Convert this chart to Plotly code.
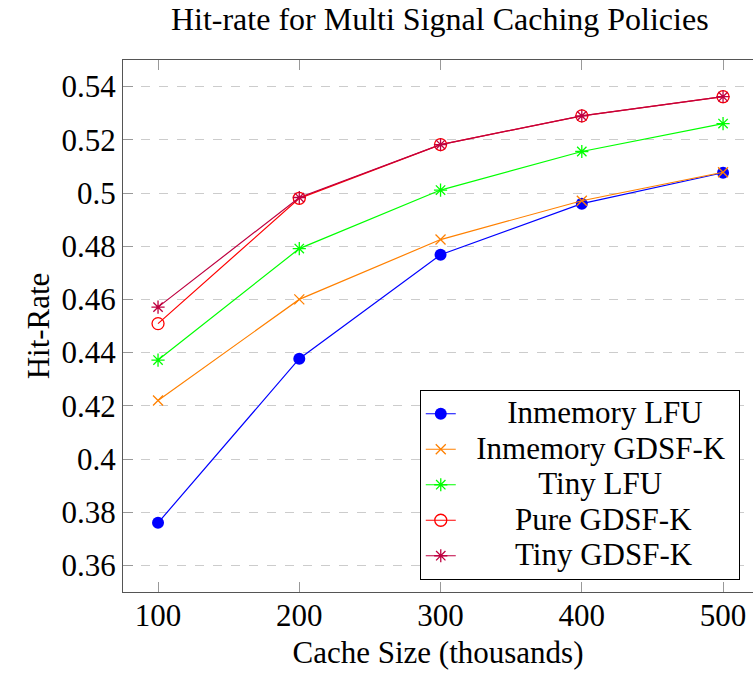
import plotly.graph_objects as go

# Cache sizes (thousands) and hit-rates per policy
cache_sizes = [100, 200, 300, 400, 500]
inmemory_lfu = [0.376, 0.4377, 0.4768, 0.4960, 0.5076]
inmemory_gdsfk = [0.422, 0.4600, 0.4825, 0.4971, 0.5078]
tiny_lfu = [0.4372, 0.4791, 0.5011, 0.5156, 0.5261]
pure_gdsfk = [0.4509, 0.4980, 0.5182, 0.5290, 0.5362]
tiny_gdsfk = [0.4571, 0.4983, 0.5182, 0.5290, 0.5362]

x_ticks = [100, 200, 300, 400, 500]
y_ticks = [0.36, 0.38, 0.40, 0.42, 0.44, 0.46, 0.48, 0.50, 0.52, 0.54]
y_tick_text = ["0.36", "0.38", "0.4", "0.42", "0.44", "0.46", "0.48", "0.5", "0.52", "0.54"]

FONT = "Liberation Serif"
LEGEND_TEXT_SIZE = 31


def legend_label(name, pad):
    # leading non-breaking spaces roughly centre the shorter entries
    inner = "&nbsp;" * (2 + pad) + name + "&nbsp;"
    return f"<span style='font-size:{LEGEND_TEXT_SIZE}px'>{inner}</span>"


series = [
    ("Inmemory LFU", 4, inmemory_lfu, "#0000ff", dict(symbol="circle", size=12)),
    ("Inmemory GDSF-K", 0, inmemory_gdsfk, "#ff8000", dict(symbol="x-thin-open", size=10, line=dict(width=1.3))),
    ("Tiny LFU", 8, tiny_lfu, "#00ff00", dict(symbol="asterisk-open", size=11, line=dict(width=1.3))),
    ("Pure GDSF-K", 5, pure_gdsfk, "#ff0000", dict(symbol="circle-open", size=12, line=dict(width=1.3))),
    ("Tiny GDSF-K", 5, tiny_gdsfk, "#bf0040", dict(symbol="asterisk-open", size=11, line=dict(width=1.3))),
]

fig = go.Figure()
for name, pad, ys, color, marker in series:
    m = dict(marker)
    m["color"] = color
    if "line" in m:
        m["line"] = dict(m["line"], color=color)
    fig.add_trace(go.Scatter(
        x=cache_sizes, y=ys, name=legend_label(name, pad), mode="lines+markers",
        line=dict(color=color, width=1.2), marker=m,
        hovertemplate=f"{name}<br>%{{x}}: %{{y}}<extra></extra>",
    ))

fig.update_layout(
    width=753, height=677,
    margin=dict(l=123, r=0, t=60, b=85),
    paper_bgcolor="white", plot_bgcolor="white",
    font=dict(family=FONT, size=31, color="black"),
    title=dict(text="Hit-rate for Multi Signal Caching Policies",
               font=dict(family=FONT, size=32, color="black"),
               x=0.584, xanchor="center", y=0.972, yanchor="middle"),
    showlegend=True,
    legend=dict(
        x=0.979, y=0.0226, xanchor="right", yanchor="bottom",
        bgcolor="white", bordercolor="black", borderwidth=1,
        font=dict(family=FONT, size=25, color="black"),
        tracegroupgap=0,
    ),
)

fig.update_xaxes(
    range=[75.2, 521.2], tickvals=x_ticks, ticktext=[str(v) for v in x_ticks],
    ticks="inside", ticklen=10, tickcolor="#999999", tickwidth=1,
    showline=True, linecolor="#555555", linewidth=1.3, mirror="ticks",
    showgrid=False, zeroline=False, ticklabelstandoff=-4,
    tickfont=dict(family=FONT, size=31),
    title=dict(text="Cache Size (thousands)", font=dict(family=FONT, size=31), standoff=8),
)
fig.update_yaxes(
    range=[0.35, 0.55], tickvals=y_ticks, ticktext=y_tick_text,
    ticks="inside", ticklen=10, tickcolor="#999999", tickwidth=1,
    showline=True, linecolor="#555555", linewidth=1.3,
    showgrid=True, gridcolor="#cccccc", griddash="dash", gridwidth=1.2,
    zeroline=False,
    tickfont=dict(family=FONT, size=31),
    title=dict(text="Hit-Rate", font=dict(family=FONT, size=31), standoff=2),
)

fig.write_html("out.html")
